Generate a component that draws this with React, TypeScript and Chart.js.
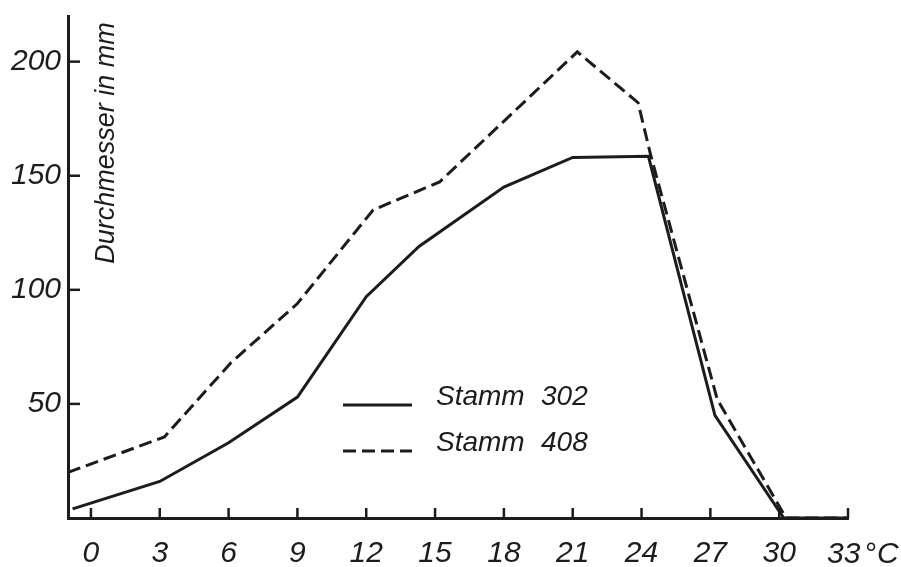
import React, { useEffect, useRef } from "react";
import { Chart, registerables } from "chart.js";

Chart.register(...registerables);

const xTicks = [0, 3, 6, 9, 12, 15, 18, 21, 24, 27, 30, 33];
const yTicks = [50, 100, 150, 200];

const stamm302X = [-0.8, 3, 6, 9, 12, 14.3, 18, 21, 24.3, 27.2, 30.2, 33];
const stamm302Y = [4, 16, 33, 53, 97, 119, 145, 158, 158.5, 45, 0, 0];

const stamm408X = [-1, 3.2, 6.1, 9, 12.3, 15.2, 21.2, 23.85, 24.4, 27.3, 30.3, 33];
const stamm408Y = [20, 35.5, 68, 94, 135, 147.3, 204.3, 182, 159, 52, 0, 0];

const seriesNames = ["Stamm 302", "Stamm 408"];
const yTitle = "Durchmesser in mm";
const unitLabel = "°C";

const INK = "#1c1c1c";
const FONT = "Liberation Sans";

export default function App() {
  const ref = useRef<HTMLCanvasElement | null>(null);

  useEffect(() => {
    if (!ref.current) return;

    const overlay = {
      id: "overlay",
      afterDraw(chart: any) {
        const { ctx, chartArea, scales } = chart;
        const xs = scales.x;
        const ys = scales.y;
        ctx.save();
        ctx.strokeStyle = INK;
        ctx.lineWidth = 2.5;
        ctx.lineCap = "butt";
        // inner tick marks
        xTicks.forEach((v) => {
          const px = xs.getPixelForValue(v);
          ctx.beginPath();
          ctx.moveTo(px, chartArea.bottom);
          ctx.lineTo(px, chartArea.bottom - 10);
          ctx.stroke();
        });
        yTicks.forEach((v) => {
          const py = ys.getPixelForValue(v);
          ctx.beginPath();
          ctx.moveTo(chartArea.left, py);
          ctx.lineTo(chartArea.left + 12, py);
          ctx.stroke();
        });

        // y title inside plot
        ctx.fillStyle = INK;
        ctx.save();
        ctx.translate(chartArea.left + 46, 143);
        ctx.rotate(-Math.PI / 2);
        ctx.font = `italic 27px "${FONT}"`;
        ctx.textAlign = "center";
        ctx.textBaseline = "alphabetic";
        ctx.fillText(yTitle, 0, 0);
        ctx.restore();

        // last x label with unit
        const lastX = xs.getPixelForValue(33);
        ctx.font = `italic 30px "${FONT}"`;
        ctx.textAlign = "left";
        ctx.textBaseline = "alphabetic";
        ctx.fillText("33", lastX - 21, 563);
        ctx.fillText(unitLabel.charAt(0), lastX + 16, 563);
        ctx.fillText(unitLabel.slice(1), lastX + 29, 563);

        // legend
        const ds = chart.data.datasets;
        const rows = [405, 451];
        ds.forEach((d: any, i: number) => {
          const y = rows[i];
          ctx.save();
          ctx.strokeStyle = d.borderColor;
          ctx.lineWidth = d.borderWidth;
          ctx.setLineDash(d.borderDash || []);
          ctx.beginPath();
          ctx.moveTo(343, y);
          ctx.lineTo(412, y);
          ctx.stroke();
          ctx.restore();
          const [w1, w2] = String(d.label).split(" ");
          ctx.font = `italic 28px "${FONT}"`;
          ctx.fillStyle = INK;
          ctx.textAlign = "left";
          ctx.textBaseline = "alphabetic";
          ctx.fillText(w1, 436, y);
          ctx.fillText(w2, 541, y);
        });
        ctx.restore();
      },
    };

    const tickFont = { family: FONT, style: "italic" as const, size: 30 };

    const chart = new Chart(ref.current, {
      type: "line",
      data: {
        datasets: [
          {
            label: seriesNames[0],
            data: stamm302X.map((x, i) => ({ x, y: stamm302Y[i] })),
            borderColor: INK,
            borderWidth: 3,
            pointRadius: 0,
            tension: 0,
            fill: false,
          },
          {
            label: seriesNames[1],
            data: stamm408X.map((x, i) => ({ x, y: stamm408Y[i] })),
            borderColor: INK,
            borderWidth: 3,
            borderDash: [13, 6],
            pointRadius: 0,
            tension: 0,
            fill: false,
          },
        ],
      },
      options: {
        animation: false,
        responsive: true,
        maintainAspectRatio: false,
        layout: { padding: { top: 16, right: 53, left: 0, bottom: 0 } },
        plugins: {
          legend: { display: false },
          tooltip: { enabled: false },
        },
        scales: {
          x: {
            type: "linear",
            min: -1,
            max: 33,
            grid: { display: false, drawTicks: false },
            border: { display: true, color: INK, width: 3 },
            ticks: {
              font: tickFont,
              color: INK,
              padding: 18,
              maxRotation: 0,
              autoSkip: false,
              callback: (v: any) => (v === 33 ? "" : String(v)),
            },
            afterBuildTicks: (s: any) => {
              s.ticks = xTicks.map((v) => ({ value: v }));
            },
            afterFit: (s: any) => {
              s.height = 49;
              s.paddingLeft = 0;
              s.paddingRight = 0;
            },
          },
          y: {
            type: "linear",
            min: 0,
            max: 220,
            grid: { display: false, drawTicks: false },
            border: { display: true, color: INK, width: 3 },
            ticks: {
              font: tickFont,
              color: INK,
              padding: 7,
              autoSkip: false,
              callback: (v: any) => String(v),
            },
            afterBuildTicks: (s: any) => {
              s.ticks = yTicks.map((v) => ({ value: v }));
            },
            afterFit: (s: any) => {
              s.width = 68;
              s.paddingTop = 0;
              s.paddingBottom = 0;
            },
          },
        },
      },
      plugins: [overlay],
    });

    return () => chart.destroy();
  }, []);

  return (
    <div
      style={{
        position: "fixed",
        left: 0,
        top: 0,
        width: 901,
        height: 567,
        background: "#fff",
      }}
    >
      <canvas ref={ref} />
    </div>
  );
}
